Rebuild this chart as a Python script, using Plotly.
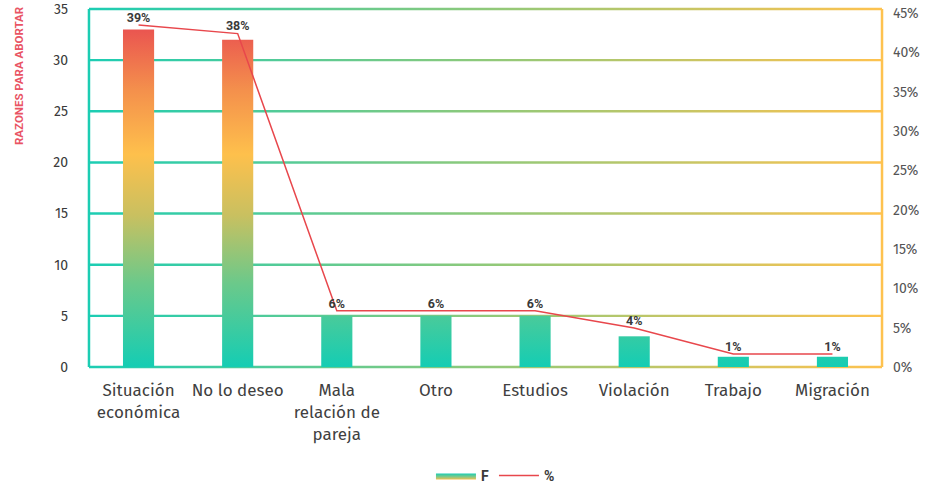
import plotly.graph_objects as go

# Reasons given for abortion: frequency (F) and share of the total (%)
categories = ["Situación<br>económica", "No lo deseo", "Mala<br>relación de<br>pareja", "Otro",
              "Estudios", "Violación", "Trabajo", "Migración"]
freq = [33, 32, 5, 5, 5, 3, 1, 1]
total = sum(freq)
pct = [round(100 * f / total) for f in freq]
pct_labels = [f"{p}%" for p in pct]
left_ticks = list(range(0, 36, 5))
right_ticks = list(range(0, 46, 5))
right_labels = [f"{t}%" for t in right_ticks]

bar_scale = [[0.0, "#14cdb4"], [0.25, "#6cc98a"], [0.45, "#c9c060"], [0.63, "#fec04c"],
             [0.82, "#f4904c"], [1.0, "#ea5550"]]
grid_scale = [[0.0, "#1ccdb3"], [0.5, "#8fc97a"], [1.0, "#fec24f"]]
legend_scale = [[0.0, "#f3bf4f"], [0.5, "#7cc98a"], [1.0, "#1ccdb3"]]
half_w = 0.157
grid_h = 0.12
bold_font = "Roboto"

fig = go.Figure()

# horizontal gridlines with a left-to-right colour gradient
for g in left_ticks:
    fig.add_trace(go.Scatter(
        x=[-0.5, 7.5, 7.5, -0.5, -0.5], y=[g - grid_h, g - grid_h, g + grid_h, g + grid_h, g - grid_h],
        mode="lines", fill="toself", line=dict(width=0, color="rgba(0,0,0,0)"),
        fillgradient=dict(type="horizontal", colorscale=grid_scale, start=-0.5, stop=7.5),
        showlegend=False, hoverinfo="skip"))

# bars filled with a value-based vertical gradient
for i, v in enumerate(freq):
    fig.add_trace(go.Scatter(
        x=[i - half_w, i + half_w, i + half_w, i - half_w, i - half_w], y=[0, 0, v, v, 0],
        mode="lines", fill="toself", line=dict(width=0, color="rgba(0,0,0,0)"),
        fillgradient=dict(type="vertical", colorscale=bar_scale, start=0, stop=max(freq)),
        showlegend=False, hoverinfo="skip"))

# legend entry for the bars
fig.add_trace(go.Scatter(
    x=[None], y=[None], mode="lines", fill="toself", name="F",
    line=dict(width=0, color="rgba(0,0,0,0)"),
    fillgradient=dict(type="vertical", colorscale=legend_scale), hoverinfo="skip"))

# percentage line
fig.add_trace(go.Scatter(
    x=list(range(len(categories))), y=pct, yaxis="y3", mode="lines+text",
    text=pct_labels, textposition="top center",
    textfont=dict(family=bold_font, size=12.5, color="#3a3a3a", weight="bold"),
    line=dict(color="#e8474c", width=1.5), name="%", cliponaxis=False))

# dummy trace so the right-hand percentage axis is rendered
fig.add_trace(go.Scatter(x=[None], y=[None], yaxis="y2", showlegend=False, hoverinfo="skip"))

fig.update_layout(
    width=927, height=487,
    margin=dict(l=87, r=43, t=7, b=118, autoexpand=False),
    plot_bgcolor="white", paper_bgcolor="white",
    font=dict(family="Fira Sans, Open Sans, Noto Sans", color="#404040"),
    xaxis=dict(range=[-0.52, 7.52], tickvals=list(range(len(categories))), ticktext=categories,
               showgrid=False, zeroline=False, showline=False, ticks="", automargin=False,
               tickfont=dict(size=17, color="#404040"), ticklabelstandoff=9),
    yaxis=dict(range=[-0.196, 35.196], tickvals=left_ticks, showgrid=False, zeroline=False,
               showline=False, ticks="", tickfont=dict(size=14, color="#3a3a3a"),
               ticklabelstandoff=18, automargin=False),
    yaxis2=dict(range=[-0.254, 45.76], tickmode="array", tickvals=right_ticks, ticktext=right_labels,
                overlaying="y", side="right", showgrid=False, zeroline=False, showline=False,
                ticks="", tickfont=dict(size=14, color="#555555"), ticklabelstandoff=8,
                automargin=False),
    yaxis3=dict(range=[-0.727, 41.07], overlaying="y", side="right", visible=False),
    legend=dict(orientation="h", x=0.5125, xanchor="center", yref="container", y=0.0226,
                yanchor="middle",
                font=dict(family=bold_font, size=14, color="#3a3a3a", weight="bold"),
                itemwidth=40, bgcolor="rgba(0,0,0,0)"),
    shapes=[
        dict(type="line", xref="x", yref="y", x0=-0.5, x1=-0.5, y0=0, y1=35,
             line=dict(color="#1ccdb3", width=2.5), layer="below"),
        dict(type="line", xref="x", yref="y", x0=7.5, x1=7.5, y0=0, y1=35,
             line=dict(color="#fec24f", width=2.5), layer="below"),
    ],
    annotations=[dict(text="RAZONES PARA ABORTAR", xref="paper", yref="paper",
                      x=-0.085, y=0.81, xanchor="center", yanchor="middle",
                      textangle=-90, showarrow=False,
                      font=dict(family=bold_font, size=11.5, color="#e95464", weight="bold"))],
)

fig.write_html("out.html")
